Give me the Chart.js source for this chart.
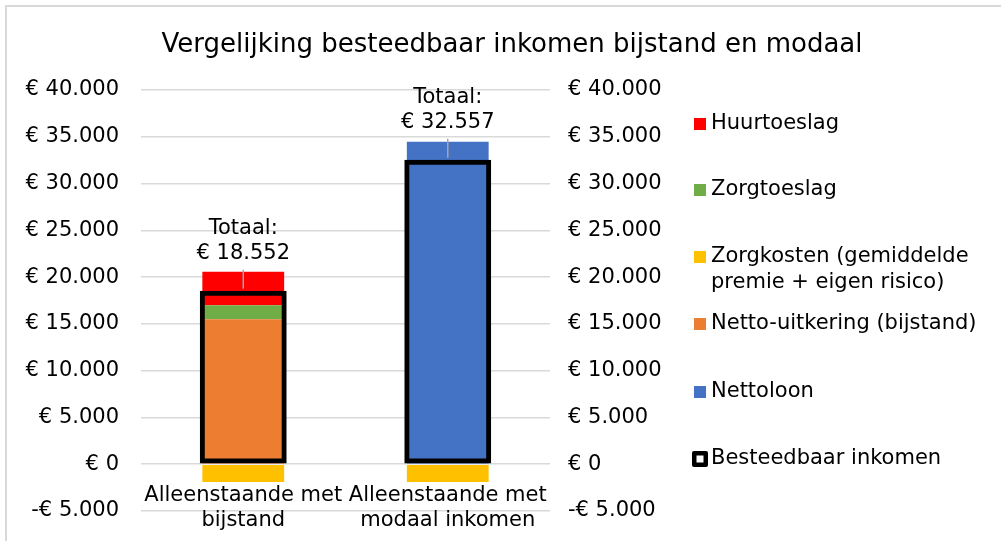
<!DOCTYPE html>
<html><head><meta charset="utf-8">
<script src="https://cdn.jsdelivr.net/npm/chart.js@4/dist/chart.umd.min.js"></script>
<style>html,body{margin:0;padding:0;background:#fff;}#wrap{width:1001px;height:541px;position:relative;}</style>
</head><body><div id="wrap"><canvas id="c" width="1001" height="541"></canvas></div>
<script>
// ---- data ----
const categories = [['Alleenstaande met', 'bijstand'], ['Alleenstaande met', 'modaal inkomen']];
const nettoUitkering = [15500, null];
const nettoloon = [null, 34460];
const zorgtoeslag = [1500, null];
const huurtoeslag = [3570, null];
const zorgkosten = [-1900, -1900];
const besteedbaar = [18552, 32557];
const yMin = -5000, yMax = 40000, yStep = 5000;
const titleText = 'Vergelijking besteedbaar inkomen bijstand en modaal';
const totalLabel = 'Totaal:';
const legendNames = ['Huurtoeslag', 'Zorgtoeslag', ['Zorgkosten (gemiddelde', 'premie + eigen risico)'], 'Netto-uitkering (bijstand)', 'Nettoloon', 'Besteedbaar inkomen'];
const colors = {huur: '#FF0000', zorgt: '#70AD47', zorgk: '#FFC000', netto: '#ED7D31', loon: '#4472C4'};

const FONT = 'DejaVu Sans';
const FS = 21;
function fmtNum(n) { return String(Math.round(n)).replace(/\B(?=(\d{3})+(?!\d))/g, '.'); }
function euro(v) { return v < 0 ? '-€ ' + fmtNum(-v) : '€ ' + fmtNum(v); }

const decor = {
  id: 'decor',
  beforeDraw(chart) {
    const ctx = chart.ctx;
    ctx.save();
    ctx.fillStyle = '#fff';
    ctx.fillRect(0, 0, chart.width, chart.height);
    ctx.strokeStyle = '#d9d9d9';
    ctx.lineWidth = 2;
    ctx.beginPath();
    ctx.moveTo(6, 2000); ctx.lineTo(6, 6); ctx.lineTo(2000, 6);
    ctx.stroke();
    ctx.fillStyle = '#000';
    ctx.font = '26px "' + FONT + '"';
    ctx.textAlign = 'center';
    ctx.textBaseline = 'middle';
    ctx.fillText(titleText, 512, 45);
    ctx.restore();
  },
  afterDatasetsDraw(chart) {
    const ctx = chart.ctx;
    const meta = chart.getDatasetMeta(chart.data.datasets.length - 1);
    ctx.save();
    ctx.font = FS + 'px "' + FONT + '"';
    ctx.fillStyle = '#000';
    ctx.textAlign = 'center';
    ctx.textBaseline = 'middle';
    meta.data.forEach((bar, i) => {
      const top = bar.y;
      ctx.strokeStyle = '#a6a6a6';
      ctx.lineWidth = 1.5;
      ctx.beginPath();
      ctx.moveTo(bar.x, top - 21);
      ctx.lineTo(bar.x, top - 2);
      ctx.stroke();
      ctx.fillText(totalLabel, bar.x, top - 62);
      ctx.fillText(euro(besteedbaar[i]), bar.x, top - 37);
    });
    ctx.restore();
  },
  afterDraw(chart) {
    const ctx = chart.ctx;
    const ys = [124, 190, 257, 324, 392, 459];
    const swatch = [colors.huur, colors.zorgt, colors.zorgk, colors.netto, colors.loon, null];
    ctx.save();
    ctx.font = FS + 'px "' + FONT + '"';
    ctx.textBaseline = 'middle';
    ctx.textAlign = 'left';
    legendNames.forEach((name, i) => {
      const y = ys[i];
      if (swatch[i]) {
        ctx.fillStyle = swatch[i];
        ctx.fillRect(694, y - 6, 12, 12);
      } else {
        ctx.fillStyle = '#000';
        ctx.beginPath();
        ctx.roundRect(692, y - 8, 16, 16, 2);
        ctx.fill();
        ctx.fillStyle = '#fff';
        ctx.fillRect(696.5, y - 3.5, 7, 7);
      }
      ctx.fillStyle = '#000';
      const lines = Array.isArray(name) ? name : [name];
      lines.forEach((t, k) => ctx.fillText(t, 711, y + k * 26));
    });
    ctx.restore();
  }
};

function noPad(s) { s.paddingTop = 0; s.paddingBottom = 0; }

const barPct = 0.4;
new Chart(document.getElementById('c'), {
  type: 'bar',
  data: {
    labels: categories,
    datasets: [
      {label: 'Netto-uitkering (bijstand)', data: nettoUitkering, backgroundColor: colors.netto, stack: 's'},
      {label: 'Nettoloon', data: nettoloon, backgroundColor: colors.loon, stack: 's'},
      {label: 'Zorgtoeslag', data: zorgtoeslag, backgroundColor: colors.zorgt, stack: 's'},
      {label: 'Huurtoeslag', data: huurtoeslag, backgroundColor: colors.huur, stack: 's'},
      {label: 'Zorgkosten (gemiddelde premie + eigen risico)', data: zorgkosten, backgroundColor: colors.zorgk, stack: 's'},
      {label: 'Besteedbaar inkomen', data: besteedbaar, backgroundColor: 'rgba(0,0,0,0)', borderColor: '#000', borderWidth: 5, borderSkipped: false, stack: 'b', order: -1, barPercentage: 0.425}
    ].map(d => Object.assign({grouped: false, barPercentage: barPct, categoryPercentage: 1}, d))
  },
  options: {
    responsive: false,
    animation: false,
    devicePixelRatio: 1,
    layout: {padding: {left: 0, right: 311, top: 90, bottom: 30}},
    plugins: {
      legend: {display: false},
      tooltip: {enabled: false},
      title: {display: false}
    },
    scales: {
      x: {
        position: {y: 0},
        stacked: true,
        afterFit(s) { s.height = 0; },
        grid: {display: false, drawTicks: false},
        border: {display: false},
        ticks: {color: '#000', font: {family: FONT, size: FS}, padding: 19, maxRotation: 0, autoSkip: false}
      },
      y: {
        position: 'left', stacked: true, min: yMin, max: yMax,
        afterFit(s) { s.width = 141; noPad(s); },
        grid: {color: '#d9d9d9', lineWidth: 1.5, drawTicks: false},
        border: {display: false},
        ticks: {stepSize: yStep, color: '#000', font: {family: FONT, size: FS}, padding: 22, callback: v => euro(v)}
      },
      y2: {
        position: 'right', min: yMin, max: yMax,
        afterFit(s) { s.width = 140; noPad(s); },
        grid: {display: false, drawTicks: false},
        border: {display: false},
        ticks: {stepSize: yStep, color: '#000', font: {family: FONT, size: FS}, padding: 18, callback: v => euro(v)}
      }
    }
  },
  plugins: [decor]
});
</script></body></html>
